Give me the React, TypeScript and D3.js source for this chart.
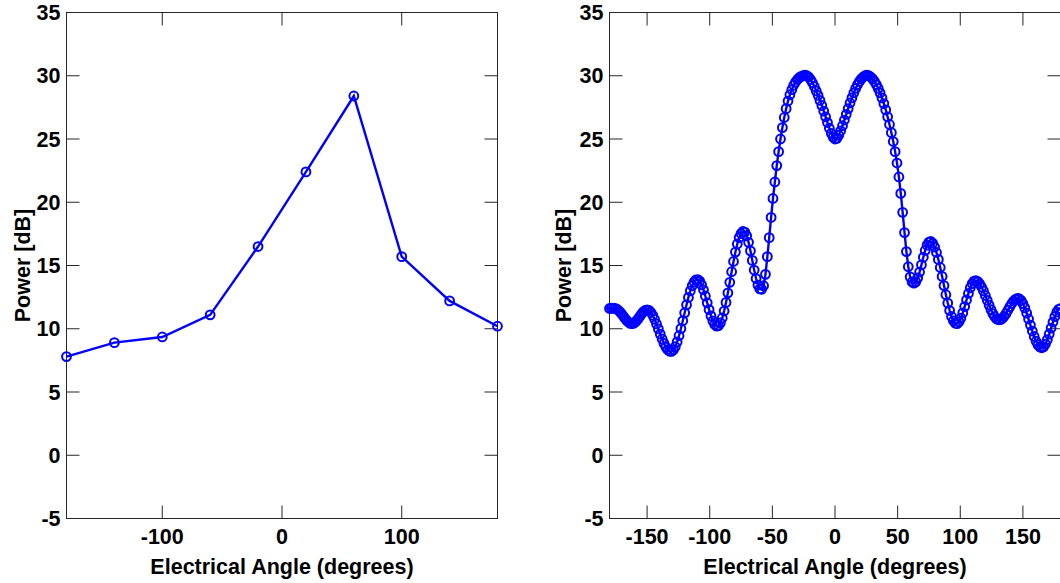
import React from "react";
import * as d3 from "d3";

// ---- Data ----
// Left panel: coarse scan
const coarseAngles = [-180, -140, -100, -60, -20, 20, 60, 100, 140, 180];
const coarsePower = [7.8, 8.9, 9.35, 11.1, 16.5, 22.4, 28.4, 15.7, 12.2, 10.2];

// Right panel: fine scan, -180..180 sampled every 1.5 degrees (241 samples)
const fineStart = -180;
const fineStep = 1.5;
const finePower = [
  11.6, 11.62, 11.62, 11.6, 11.54, 11.42, 11.26, 11.07, 10.87, 10.68,
  10.53, 10.43, 10.4, 10.44, 10.56, 10.74, 10.95, 11.16, 11.34, 11.46,
  11.5, 11.45, 11.3, 11.06, 10.75, 10.38, 9.99, 9.58, 9.19, 8.84,
  8.55, 8.34, 8.22, 8.21, 8.33, 8.58, 8.96, 9.45, 10.01, 10.63,
  11.26, 11.89, 12.48, 12.99, 13.4, 13.7, 13.87, 13.89, 13.76, 13.48,
  13.08, 12.59, 12.05, 11.51, 11.02, 10.62, 10.34, 10.21, 10.25, 10.46,
  10.85, 11.4, 12.08, 12.84, 13.67, 14.51, 15.32, 16.06, 16.7, 17.2,
  17.53, 17.69, 17.64, 17.35, 16.83, 16.16, 15.4, 14.64, 13.97, 13.45,
  13.15, 13.12, 13.4, 14.3, 15.7, 17.2, 18.8, 20.3, 21.6, 22.9,
  24.0, 25.0, 25.9, 26.7, 27.4, 28.0, 28.5, 28.9, 29.25, 29.5,
  29.7, 29.85, 29.95, 30.0, 30.05, 30.0, 29.9, 29.7, 29.45, 29.15,
  28.8, 28.45, 28.05, 27.65, 27.2, 26.75, 26.3, 25.85, 25.45, 25.15,
  25.0, 25.05, 25.3, 25.65, 26.05, 26.5, 26.95, 27.4, 27.85, 28.25,
  28.65, 29.0, 29.3, 29.55, 29.75, 29.9, 30.0, 30.05, 30.0, 29.9,
  29.75, 29.55, 29.3, 29.0, 28.65, 28.25, 27.8, 27.3, 26.75, 26.15,
  25.5, 24.8, 24.0, 23.1, 22.0, 20.7, 19.2, 17.6, 16.1, 14.9,
  14.1, 13.7, 13.6, 13.71, 14.02, 14.48, 15.05, 15.65, 16.19, 16.61,
  16.85, 16.9, 16.76, 16.46, 16.03, 15.48, 14.84, 14.14, 13.41, 12.69,
  12.03, 11.44, 10.97, 10.63, 10.44, 10.41, 10.55, 10.84, 11.25, 11.75,
  12.28, 12.79, 13.24, 13.57, 13.76, 13.8, 13.72, 13.55, 13.3, 12.99,
  12.63, 12.25, 11.87, 11.51, 11.2, 10.95, 10.78, 10.71, 10.72, 10.81,
  10.98, 11.2, 11.46, 11.73, 11.98, 12.18, 12.33, 12.39, 12.37, 12.24,
  11.99, 11.65, 11.23, 10.77, 10.29, 9.82, 9.39, 9.01, 8.73, 8.56,
  8.5, 8.57, 8.79, 9.14, 9.57, 10.05, 10.53, 10.96, 11.31, 11.53,
  11.6,
];

const yTicks = [-5, 0, 5, 10, 15, 20, 25, 30, 35];
const leftXTicks = [-100, 0, 100];
const rightXTicks = [-150, -100, -50, 0, 50, 100, 150];
const xTitle = "Electrical Angle (degrees)";
const yTitle = "Power [dB]";

const W = 1060;
const H = 583;
const TOP = 12.5;
const BOTTOM = 518.5;
const TICK = 13;
const FONT = "'Liberation Sans', Arial, Helvetica, sans-serif";
const FS = 21.5;
const AXIS_COLOR = "#262626";
const BLUE = "#0000ff";

type Pt = { a: number; p: number };

function Panel({
  left,
  right,
  xTicks,
  data,
  titleX,
}: {
  left: number;
  right: number;
  xTicks: number[];
  data: Pt[];
  titleX: number;
}) {
  const x = d3.scaleLinear().domain([-180, 180]).range([left, right]);
  const y = d3.scaleLinear().domain([-5, 35]).range([BOTTOM, TOP]);
  const line = d3
    .line<Pt>()
    .x((d) => x(d.a))
    .y((d) => y(d.p));
  const cx = (left + right) / 2;
  const cy = (TOP + BOTTOM) / 2;
  return (
    <g>
      <rect
        x={left}
        y={TOP}
        width={right - left}
        height={BOTTOM - TOP}
        fill="none"
        stroke={AXIS_COLOR}
        strokeWidth={1}
      />
      {yTicks.map((t) => (
        <g key={"y" + t}>
          <line x1={left} x2={left + TICK} y1={y(t)} y2={y(t)} stroke={AXIS_COLOR} />
          <line x1={right} x2={right - TICK} y1={y(t)} y2={y(t)} stroke={AXIS_COLOR} />
          <text
            x={left - 6}
            y={y(t)}
            dy="0.36em"
            textAnchor="end"
            fontFamily={FONT}
            fontWeight="bold"
            fontSize={FS}
            fill="#000"
          >
            {String(t)}
          </text>
        </g>
      ))}
      {xTicks.map((t) => (
        <g key={"x" + t}>
          <line x1={x(t)} x2={x(t)} y1={BOTTOM} y2={BOTTOM - TICK} stroke={AXIS_COLOR} />
          <line x1={x(t)} x2={x(t)} y1={TOP} y2={TOP + TICK} stroke={AXIS_COLOR} />
          <text
            x={x(t)}
            y={543.5}
            textAnchor="middle"
            fontFamily={FONT}
            fontWeight="bold"
            fontSize={FS}
            fill="#000"
          >
            {String(t)}
          </text>
        </g>
      ))}
      <text
        x={cx}
        y={573.5}
        textAnchor="middle"
        fontFamily={FONT}
        fontWeight="bold"
        fontSize={FS}
        fill="#000"
      >
        {xTitle}
      </text>
      <text
        transform={`translate(${titleX},${cy}) rotate(-90)`}
        textAnchor="middle"
        fontFamily={FONT}
        fontWeight="bold"
        fontSize={FS}
        fill="#000"
      >
        {yTitle}
      </text>
      <path d={line(data) || ""} fill="none" stroke={BLUE} strokeWidth={2.4} />
      {data.map((d, i) => (
        <circle
          key={i}
          cx={x(d.a)}
          cy={y(d.p)}
          r={4.4}
          fill="none"
          stroke={BLUE}
          strokeWidth={2}
        />
      ))}
    </g>
  );
}

export default function App() {
  const coarse: Pt[] = coarseAngles.map((a, i) => ({ a, p: coarsePower[i] }));
  const fine: Pt[] = finePower.map((p, i) => ({ a: fineStart + i * fineStep, p }));
  return (
    <svg
      width={W}
      height={H}
      style={{ position: "absolute", left: 0, top: 0, background: "#fff" }}
    >
      <rect x={0} y={0} width={W} height={H} fill="#fff" />
      <Panel left={66.5} right={497.5} xTicks={leftXTicks} data={coarse} titleX={30} />
      <Panel left={609.5} right={1060.5} xTicks={rightXTicks} data={fine} titleX={571} />
    </svg>
  );
}
